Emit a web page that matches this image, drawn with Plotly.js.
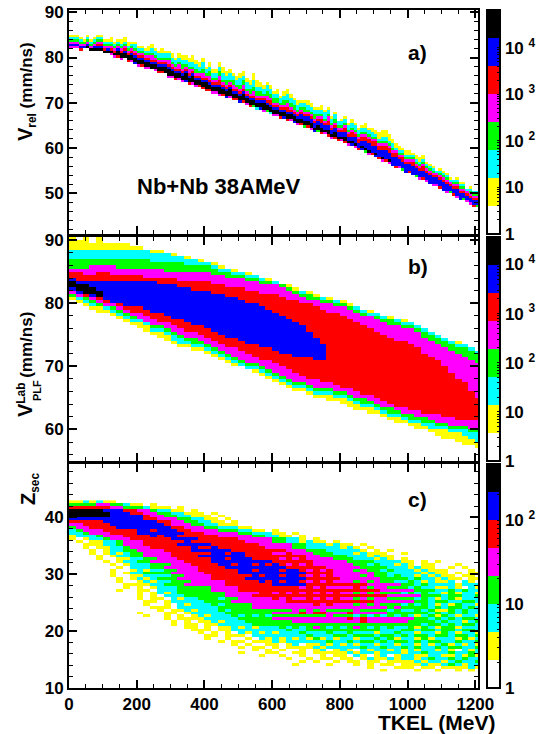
<!DOCTYPE html>
<html><head><meta charset="utf-8">
<script src="https://cdn.plot.ly/plotly-3.0.1.min.js"></script>
<style>html,body{margin:0;padding:0;background:#fff}</style></head>
<body><div id="chart" style="width:543px;height:734px"></div>
<script>
// ---------- Panel a: per-column (10 MeV) lowest cell and cell counts of each colour band, bottom to top
const aFloor=[82,82,82,81.5,81.5,81.5,81,81,81,81,
80.5,80.5,80.5,80,80,79.5,79.5,79,79,78.5,
78,78,77.5,77.5,77,77,76.5,76.5,76,75.5,
75.5,75,75,74.5,74.5,74,74,73.5,73.5,73,
72.5,72.5,72,72,71.5,71.5,71,71,70.5,70.5,
70,70,69.5,69,69,68.5,68.5,68,68,67.5,
67,67,66.5,66.5,66,66,65.5,65,65,64.5,
64.5,64,63.5,63.5,63,63,62.5,62,62,61.5,
61.5,61,60.5,60.5,60,59.5,59.5,59,58.5,58.5,
58,57.5,57,57,56.5,56,55.5,55.5,55,54.5,
54.5,54,53.5,53,53,52.5,52,51.5,51.5,51,
50.5,50,50,49.5,49,48.5,48.5,48,47.5,47,47];
const aTail ="4445000000 0044540546 4544045504 4544654455 5544456455 6545326432 4456546453 5463545455 4546456345 6545465436 5634546445 6435463445 3";
const aBlack="0000011111 1111222222 2222222233 2222323222 3222322322 2322222322 2222222222 2212212121 1211101110 1010100000 0000000000 0000000000 0";
const aBlue ="1111110111 0100101011 1111111111 1111111111 1111111111 1111111111 1111111122 2222222222 2222322333 3334334333 3333333333 3322322222 2";
const aRed  ="0000000011 1011011111 1111111111 1111111111 1111211111 1111111112 1111211111 1111212111 1212122222 2222222121 1211211111 1111111111 1";
const aMag  ="1111111111 1111111111 1111211112 1121121112 1211211121 1211211121 1111211111 1111112111 1111111111 1111111111 1111111111 1111111111 1";
const aGreen="1111111111 1111111111 1111111111 1112111212 1211212121 2212222122 2212122112 1121111121 1111111111 1111110111 1111111101 1101111011 1";
const aCyan ="1111011111 1111111112 1111222222 2222222223 2222232322 3232322232 2222322222 2222232222 2222222222 1122121111 1111111111 1111111111 1";
const aYel  ="1111111111 1121122211 1112211211 2122223222 1222232212 2222332212 1212221211 2211211110 1112111212 2333322212 2122211101 1110111010 0";

// ---------- Panel b: per-column (20 MeV) upper and lower edge of each colour band
const bYelTop=[90.5,90,90.5,89.5,90.5, 89.5,89.5,89.5,89.5,89, 89,88.5,88.5,88.5,88, 88,87.5,87.5,87,87, 86.5,86.5,86,85.5,85.5, 85,85,84.5,84,84, 83.5,83,83,82.5,82, 82,81.5,81,81,80.5, 80.5,80,79.5,79,79, 78.5,78,78,77.5,77.5, 77,76.5,76,75.5,75, 74.5,74,74,73.5,73, 72.5];
const bCyaTop=[88.5,88.5,88.5,88.5,88.5, 88.5,88.5,88.5,88.5,88.5, 88.5,88.5,88,88,88, 87.5,87.5,87,87,86.5, 86.5,86,85.5,85.5,85, 85,84.5,84.5,84,83.5, 83.5,83,82.5,82,82, 81.5,81,81,80.5,80.5, 80,79.5,79.5,79,78.5, 78.5,78,77.5,77.5,77, 77,76.5,76,75.5,75, 74.5,74,73.5,73.5,73, 72.5];
const bGrnTop=[87,87,87,87,87, 87,87,87,87,87, 87,87,86.5,86.5,86.5, 86.5,86.5,86,86,86, 86,85.5,85,85,84.5, 84.5,84,84,83.5,83.5, 83,83,82.5,82,81.5, 81.5,81,80.5,80.5,80, 80,79.5,79,78.5,78, 78,77.5,77.5,77,76.5, 76.5,76,75.5,75,74.5, 74,73.5,73,73,72.5, 72];
const bMagTop=[85.5,85.5,85.5,86,86, 86,86,85.5,85.5,85.5, 85.5,85.5,85.5,85.5,85, 85,85,85,85,85, 85,84.5,84.5,84,84, 84,83.5,83.5,83,83, 83,82.5,82,81.5,81, 80.5,80.5,80,80,79.5, 79.5,79,78.5,78,78, 77.5,77,76.5,76.5,76, 76,75.5,74.5,74,73.5, 73,72.5,72,71.5,71, 70.5];
const bRedTop=[85,85,84.5,84.5,85, 85,84.5,84.5,84.5,84.5, 84.5,84,84,84,84, 84,83.5,83.5,83.5,83.5, 83.5,83,83,82.5,82.5, 82.5,82,82,81.5,81.5, 81.5,81,80.5,80.5,80, 80,79.5,79,78.5,78.5, 78,77.5,77,76.5,76, 75.5,75,74.5,74,74, 73.5,73,72,71.5,71, 70,69,68,67.5,66, 65];
const bBluTop=[84,83.5,83.5,83.5,83.5, 83.5,83.5,83.5,83.5,83.5, 83.5,83.5,83.5,83,83, 83,82.5,82.5,82,82, 82,81.5,81.5,81,81, 80.5,80,80,79.5,79, 78.5,78,77.5,77,76.5, 75.5,74.5,73.5];
const bBlkTop=[83.5,83,83,82.5,82];
const bBlkBot=[82.5,82,81.5,81.5,81];
const bBluBot=[82,81.5,81.5,81,81, 80.5,80,80,79.5,79.5, 79.5,79,78.5,78.5,78, 77.5,77.5,77,76.5,76.5, 76,75.5,75,74.5,74.5, 74,73.5,73.5,73,73, 72.5,72,72,71.5,71.5, 71.5,71,71];
const bRedBot=[82,81.5,81,81,80.5, 80,80,79.5,79,78.5, 78.5,78,77.5,77,77, 76.5,76,75.5,75.5,75, 74.5,74,73.5,73,73, 72.5,72,71.5,71,71, 70.5,70,69.5,69,68.5, 68,68,67.5,67.5,67, 66.5,66.5,66,65.5,65.5, 65,64.5,64,63.5,63.5, 63,63,62.5,62.5,62.5, 62,62,61.5,61.5,61.5, 61.5];
const bMagBot=[81.5,81,81,80.5,80, 79.5,79.5,79,78.5,78, 77.5,77,76.5,76.5,76, 75.5,75,74.5,74.5,74, 73.5,73,72.5,72,71.5, 71,70.5,70.5,70,69.5, 69,68.5,68,67.5,67.5, 67,66.5,66.5,66.5,66, 66,65.5,65,65,64.5, 64,63.5,63.5,63,62.5, 62.5,62,62,61.5,61, 61,60.5,60.5,60.5,60, 60];
const bGrnBot=[81,81,80.5,80,79.5, 79.5,79,78.5,78,77.5, 77.5,77,76,76,75.5, 75,74.5,74,73.5,73.5, 73,72.5,72,71.5,71, 70.5,70,70,69.5,69, 68.5,68,67.5,67,67, 66.5,66,66,66,65.5, 65.5,65,64.5,64,64, 63.5,63,62.5,62.5,62, 61.5,61.5,61,61,60.5, 60.5,60,60,60,59.5, 59.5];
const bCyaBot=[81,80.5,80,79.5,79.5, 79,78.5,78,77.5,77, 77,76.5,75.5,75.5,75, 74,73.5,73.5,73,73, 72.5,72,71.5,71,70.5, 70,69.5,69.5,69,68.5, 68,67.5,67,66.5,66.5, 66,65.5,65.5,65.5,65, 65,64.5,64,63.5,63.5, 63,62.5,62,62,61.5, 61,61,60.5,60,60, 60,59.5,59.5,59,58.5, 58];
const bYelBot=[80.5,80,79.5,79,78.5, 78.5,78,77.5,77,76.5, 76,75.5,75,74.5,74, 73.5,73,73,72.5,72.5, 72,71.5,71,70.5,70, 70,69.5,69,68.5,68, 67.5,67,66.5,66,66, 65.5,65,65,64.5,64.5, 64,63.5,63,63,62.5, 62.5,62,61.5,61,61, 60.5,60,60,59.5,59, 58.5,58.5,58,57.5,57.5, 57];

// ---------- Panel c: colour level per cell, one string per Z row (0.5 wide), 20 MeV per character
const cTopZ=42.5;
const cRows=[
"1121211000",
"3333443321 1010000000",
"5555554433 3211101000",
"7777766655 4432211010",
"7777776665 5443322111 0100",
"7777776666 6544332211 1010",
"6666666666 6554443322 1101",
"5555566666 6665544332 2110100",
"4455556666 6666544433 2211100",
"3445555666 6666655444 3322211",
"2344455555 6656665544 4433322110 1",
"2234445555 6666666555 4444433222 1101",
"1222344455 5565665555 5544444332 21101",
"1012234445 5555566665 5555544444 3322101",
"0101122344 4555555655 5555554444 3322121101",
"0011122344 4555556666 6555555544 4443322212 1101",
"0010112234 4455555565 5655555554 4443322222 1210100",
"0001012233 4444555566 6666555555 5544433322 2221010100",
"0001012123 3444455555 5665665555 4454443332 2212111001",
"0000101223 3444455556 6666665555 5555544333 3222121100",
"0000100112 2334445555 5665666555 5454544443 3322212101 0",
"0000010122 3344444555 5666666666 5555554444 4333322221 1010100000",
"0000001012 2233344455 5566566565 6545454444 4433232212 1011000100",
"0000000102 2233444445 5556666666 6655555544 4443333222 1211001010",
"0000001001 2122334445 5555566566 6566545454 4434332322 2121110001",
"0000001012 2333344444 5555566666 6666655554 4444433222 2212110101 1",
"0000001001 1222233444 4555555656 6566545454 4443433232 2121211011 0",
"0000000101 2123334444 4555556666 6666655555 4444443333 2322121101 1",
"0000000100 1212233344 4445555565 6566545454 4434343322 3212112021 0",
"0000000011 1122333444 4445555555 6666655555 5555444443 3232222122 2",
"0000000010 1012223333 3444455555 5555454544 4454344333 2322112102 1",
"0000000100 1102223333 3444455555 5555555555 5555554444 4333223232 2",
"0000000000 1012123333 3334444455 4545454545 4434343332 3232213122 1",
"0000000000 1010222333 3334444555 5555555555 5555555444 4433323322 3",
"0000000000 1011021223 3323344444 5454454545 4434344333 3232123122 2",
"0000000000 0110122222 3333444444 4455555555 5555544444 4332332233 2",
"0000000000 0100102122 2323333444 4444445454 4434343332 3232121322 1",
"0000000000 0011102222 2233333444 4444444444 4444444343 3332323323 2",
"0000000000 0001011212 2232333333 3334343433 3343333232 2323113232 2",
"0000000000 1000110122 2223333333 4444545544 4544444333 3332323232 2",
"0000000000 0100101012 1222323232 3333333343 3323232323 2123132122 1",
"0000000000 0000101111 2222233333 4444444444 4545444444 4332323233 2",
"0000000000 0000010101 1212223333 3334444444 4445444444 3333232212 3",
"0000000000 0000010110 1122222333 3333333333 3333333333 3323323233 2",
"0000000000 0000000110 1011212122 2323234323 2343232322 3132133122 2",
"0000000000 0000000011 1011222222 2232233333 3333332223 3233233233 2",
"0000000000 0000000001 0101021212 1222322232 2322212232 2122132122 1",
"0000000000 0000000000 1101110222 2222232223 3233323323 2332332332 3",
"0000000000 0000000000 1001001021 2121213121 2212232312 2131222131 2",
"0000000000 0000000000 0010110111 2122222232 2323323233 2323322322 3",
"0000000000 0000000000 0000101001 1012011212 1212212212 2121231212 1",
"0000000000 0000000000 0000010110 1011112122 2223223223 2322323322 3",
"0000000000 0000000000 0000000101 0100101201 2102122121 2122121021 2",
"0000000000 0000000000 0000010001 1001101111 1212212221 2232223223 2",
"0000000000 0000000000 0000000010 0100100101 1021012012 2112211213 1",
"0000000000 0000000000 0000000000 0010010110 1101211212 2123223232 2",
"0000000000 0000000000 0000000000 0000101001 0110110111 1212212322 3",
"0000000000 0000000000 0000000000 0001000010 0010101101 1121123212 2",
"0000000000 0000000000 0000000000 0000000000 0000100011 1011011112 1",
"0000000000 0000000000 0000000000 0000000000 0000001000 0100100101"
];

// ---------- Shared scales
const bandColors=["#ffffff","#ffff00","#00ffff","#00ff00","#ff00ff","#ff0000","#0000ff","#000000"];
const zTopA=4.81, zTopB=4.56, zTopC=2.67;  // log10(count) at the top of each colour bar

// ---------- Building the cell matrices
const chars=s=>s.replace(/ /g,"");
const levelZ=(L,top)=>L>0?top*(L+0.5)/8:null;

function buildA(){
  const rowMin=46,nRows=80,nCols=aFloor.length;
  const z=Array.from({length:nRows},()=>new Array(nCols).fill(null));
  const stack=[[7,chars(aBlack)],[6,chars(aBlue)],[5,chars(aRed)],[4,chars(aMag)],[3,chars(aGreen)],[2,chars(aCyan)],[1,chars(aYel)]];
  const tail=chars(aTail);
  for(let c=0;c<nCols;c++){
    let r=Math.round((aFloor[c]-rowMin)/0.5);
    const t=+tail[c]||0;
    if(t) z[r][c]=levelZ(t,zTopA);
    r++;
    for(const [L,s] of stack){
      for(let k=0;k<(+s[c]||0);k++){ if(r<nRows) z[r][c]=levelZ(L,zTopA); r++; }
    }
  }
  return {z,x:aFloor.map((_,c)=>c*10+5),y:Array.from({length:nRows},(_,r)=>rowMin+r*0.5+0.25)};
}
function buildB(){
  const rowMin=55,nRows=72,nCols=bYelTop.length;
  const bands=[[1,bYelTop,bYelBot],[2,bCyaTop,bCyaBot],[3,bGrnTop,bGrnBot],[4,bMagTop,bMagBot],[5,bRedTop,bRedBot],[6,bBluTop,bBluBot],[7,bBlkTop,bBlkBot]];
  const z=[],y=[];
  for(let r=0;r<nRows;r++){
    const v=rowMin+r*0.5,row=[];
    for(let c=0;c<nCols;c++){
      let lev=0;
      for(const [L,t,b] of bands){ if(v<t[c]&&v>=b[c]) lev=L; }
      row.push(levelZ(lev,zTopB));
    }
    z.push(row); y.push(v+0.25);
  }
  return {z,x:bYelTop.map((_,c)=>c*20+10),y};
}
function buildC(){
  const nCols=61,z=[],y=[];
  cRows.forEach((s,i)=>{
    const t=chars(s).padEnd(nCols,"0");
    z.push(Array.from(t,ch=>levelZ(+ch,zTopC)));
    y.push(cTopZ-i*0.5+0.25);
  });
  return {z,x:Array.from({length:nCols},(_,c)=>c*20+10),y};
}

// ---------- Page geometry (pixels)
const W=543,H=734;
const fx=p=>p/W, fy=p=>1-p/H;
const F="Liberation Sans, Arial, Helvetica, sans-serif";
const INK="#000000";
const panels=[{top:10,bot:234},{top:237,bot:461},{top:464,bot:688}];

const scale=bandColors.flatMap((c,i)=>[[i/8,c],[(i+1)/8,c]]);
function barTicks(top){
  const vals=[],text=[];
  for(let d=0;d<=Math.floor(top);d++){
    for(let m=1;m<=9;m++){
      const v=d+Math.log10(m);
      if(v>top) break;
      vals.push(v);
      text.push(m===1?(d===0?"1":d===1?"10":"10 <sup>"+d+"</sup>"):"");
    }
  }
  return {vals,text};
}
function hm(data,top,idx){
  const t=barTicks(top),p=panels[idx];
  return {type:"heatmap",x:data.x,y:data.y,z:data.z,xaxis:"x"+(idx?idx+1:""),yaxis:"y"+(idx?idx+1:""),
    zmin:0,zmax:top,colorscale:scale,hoverongaps:false,zsmooth:false,
    colorbar:{x:fx(487),xanchor:"left",xpad:0,y:fy(p.top),yanchor:"top",ypad:0,
      len:p.bot-p.top,lenmode:"pixels",thickness:13,thicknessmode:"pixels",
      outlinewidth:2,outlinecolor:INK,borderwidth:0,
      tickmode:"array",tickvals:t.vals,ticktext:t.text,ticks:"inside",ticklen:4,tickwidth:1,tickcolor:INK,
      tickfont:{family:F,size:17,weight:"bold",color:INK}}};
}
function xAxis(idx){
  return {domain:[fx(69),fx(478)],range:[0,1208],anchor:"y"+(idx?idx+1:""),
    tick0:0,dtick:200,ticks:"inside",ticklen:8,tickwidth:1.5,tickcolor:INK,mirror:"ticks",
    minor:{dtick:50,ticks:"inside",ticklen:4,tickwidth:1,tickcolor:INK},
    showline:true,linewidth:1.5,linecolor:INK,showgrid:false,zeroline:false,
    showticklabels:idx===2,tickfont:{family:F,size:17,weight:"bold",color:INK},ticklabelposition:"outside"};
}
function yAxis(idx,range){
  const p=panels[idx];
  return {domain:[fy(p.bot),fy(p.top)],range,anchor:"x"+(idx?idx+1:""),
    tick0:0,dtick:10,ticks:"inside",ticklen:8,tickwidth:1.5,tickcolor:INK,mirror:"ticks",
    minor:{dtick:2,ticks:"inside",ticklen:4,tickwidth:1,tickcolor:INK},
    showline:true,linewidth:2,linecolor:INK,showgrid:false,zeroline:false,
    tickfont:{family:F,size:17,weight:"bold",color:INK}};
}
function note(text,px,py,size,extra){
  return Object.assign({text,xref:"paper",yref:"paper",x:fx(px),y:fy(py),showarrow:false,
    xanchor:"center",yanchor:"middle",font:{family:F,size,weight:"bold",color:INK}},extra||{});
}
const annotations=[
  note("a)",417,52,21),note("b)",418,266,21),note("c)",417,499,21),
  note("Nb+Nb 38AMeV",219,186,22),
  note("TKEL (MeV)",436,722,21),
  note('<span style="font-size:20px">V</span><sub>rel</sub> (mm/ns)',27,92,17,{textangle:-90}),
  note('<span style="font-size:20px">V</span><sup>Lab</sup> (mm/ns)',25,365,17,{textangle:-90}),
  note("PLF",37,391,11,{textangle:-90}),
  note('<span style="font-size:20px">Z</span><sub>sec</sub>',29,489,17,{textangle:-90})
];
const layout={width:W,height:H,margin:{l:0,r:0,t:0,b:0},paper_bgcolor:"#fff",plot_bgcolor:"#fff",showlegend:false,
  xaxis:xAxis(0),xaxis2:xAxis(1),xaxis3:xAxis(2),
  yaxis:yAxis(0,[41,90.5]),yaxis2:yAxis(1,[55,90.5]),yaxis3:yAxis(2,[10,49.4]),annotations};
Plotly.newPlot("chart",[hm(buildA(),zTopA,0),hm(buildB(),zTopB,1),hm(buildC(),zTopC,2)],layout,{displayModeBar:false});
</script></body></html>
